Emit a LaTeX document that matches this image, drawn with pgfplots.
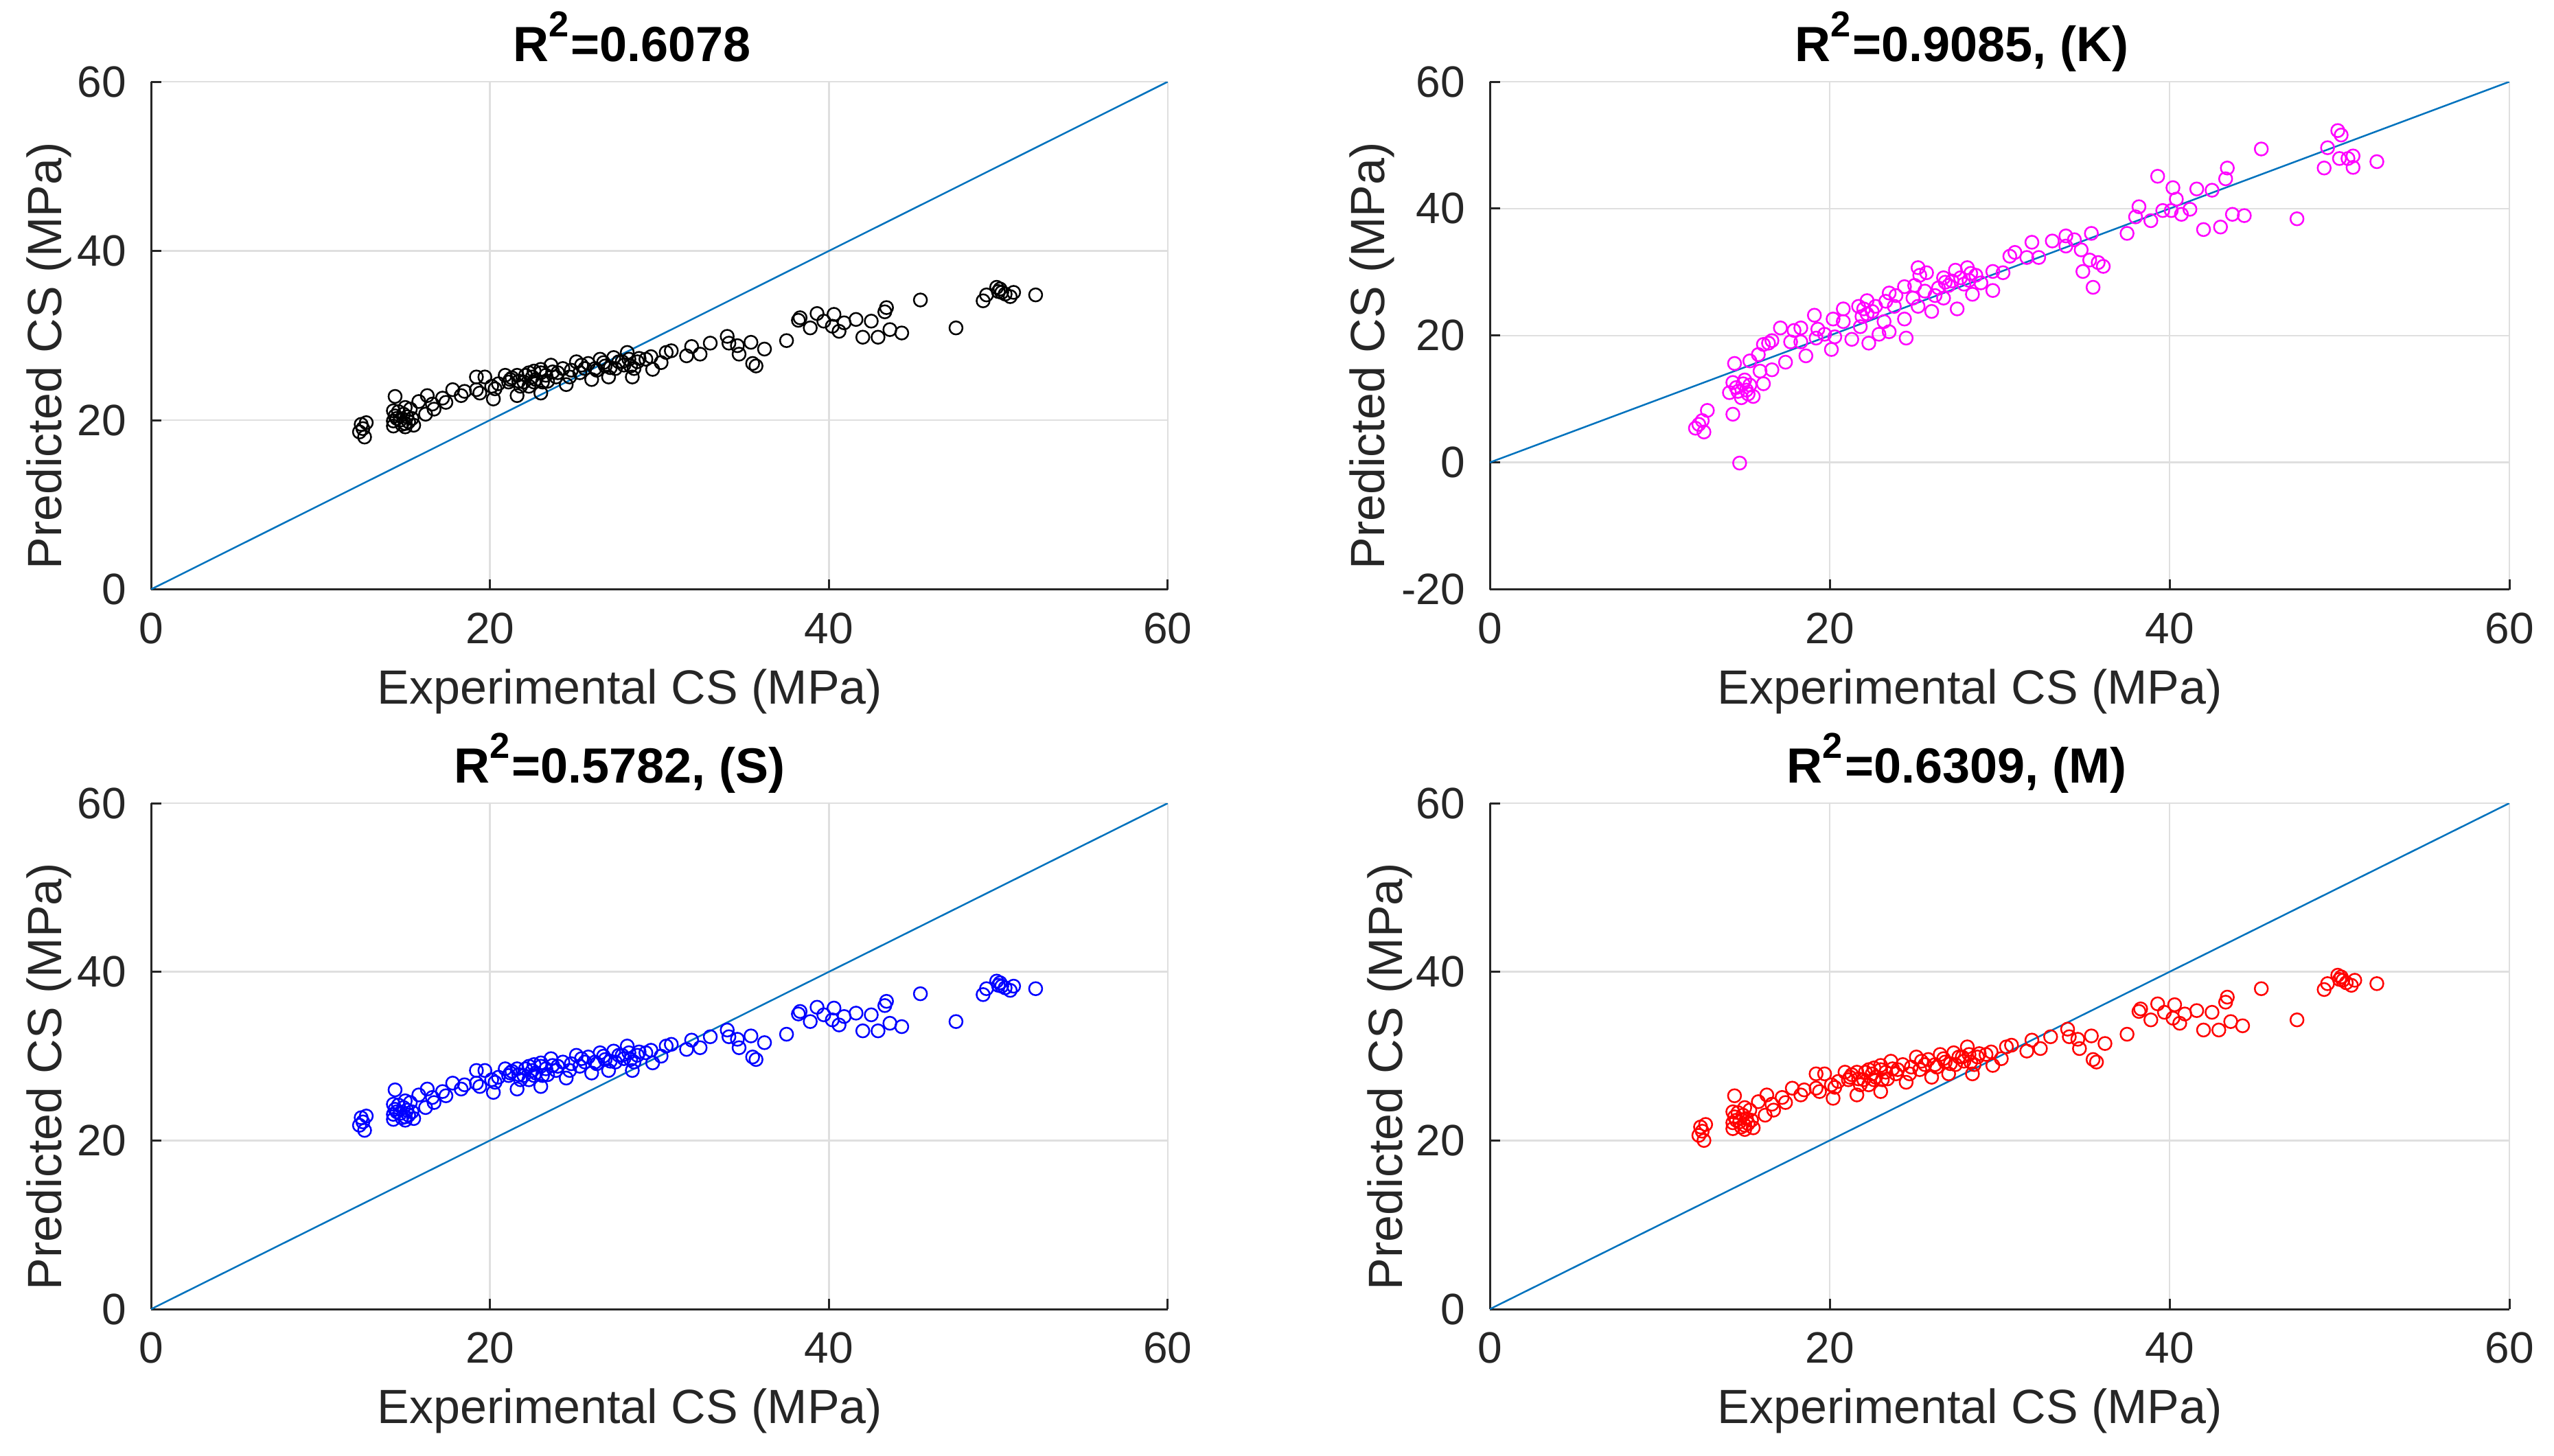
\documentclass[border=0pt]{standalone}
\usepackage{fontspec}
\setmainfont{Liberation Sans}
\usepackage{pgfplots}
\usepackage{pgfplotstable}
\pgfplotsset{compat=1.18}
\definecolor{axcol}{RGB}{38,38,38}
\definecolor{gridcol}{RGB}{223,223,223}
\definecolor{matblue}{RGB}{0,114,189}
\definecolor{mmag}{RGB}{255,0,255}
\definecolor{mblue}{RGB}{0,0,255}
\definecolor{mred}{RGB}{255,0,0}

\pgfplotstableread{
x y1 yS yM
12.3 18.6 21.8 20.6
12.5 19.0 22.2 21.1
12.7 19.7 22.9 21.9
12.6 18.0 21.2 20.0
12.4 19.5 22.7 21.6
14.4 22.8 26.0 25.3
14.3 21.1 24.3 23.4
14.3 19.9 23.1 22.1
14.4 20.5 23.7 22.8
14.7 20.0 23.2 22.2
14.9 20.7 23.9 23.0
15.0 21.5 24.7 23.9
15.2 19.8 23.0 22.0
15.4 20.2 23.4 22.4
15.3 21.3 24.5 23.6
15.0 19.6 22.8 21.8
15.8 22.2 25.4 24.6
16.2 20.7 23.9 23.0
16.3 22.9 26.1 25.4
16.6 21.9 25.1 24.3
16.7 21.3 24.5 23.6
17.2 22.6 25.8 25.1
17.4 22.1 25.3 24.5
17.8 23.6 26.8 26.2
18.3 22.9 26.1 25.4
18.5 23.4 26.6 26.0
19.2 25.1 28.3 27.9
19.2 23.6 26.8 26.2
19.7 25.1 28.3 27.9
19.4 23.2 26.4 25.8
20.1 24.0 27.2 26.6
20.2 22.5 25.7 25.0
20.3 23.7 26.9 26.3
20.9 25.3 28.5 28.1
21.1 24.5 27.7 27.2
21.2 24.8 28.0 27.5
21.6 22.9 26.1 25.4
21.6 25.3 28.5 28.1
22.0 24.5 27.7 27.2
22.3 25.6 28.8 28.4
22.3 24.0 27.2 26.6
22.5 25.1 28.3 27.9
22.6 24.5 27.7 27.2
23.0 26.0 29.2 28.9
23.0 23.2 26.4 25.8
23.1 24.5 27.7 27.2
23.3 25.3 28.5 28.1
23.6 26.5 29.7 29.4
23.7 25.7 28.9 28.5
23.9 25.1 28.3 27.9
24.3 26.1 29.3 29.0
24.5 24.2 27.4 26.9
24.7 25.1 28.3 27.9
25.1 26.9 30.1 29.9
25.3 25.6 28.8 28.4
25.4 26.5 29.7 29.4
25.6 26.1 29.3 29.0
26.0 24.8 28.0 27.5
26.2 26.1 29.3 29.0
26.5 27.2 30.4 30.2
26.8 26.4 29.6 29.3
27.0 25.1 28.3 27.9
27.3 27.4 30.6 30.4
27.4 26.1 29.3 29.0
27.6 26.9 30.1 29.9
27.9 26.5 29.7 29.4
28.1 28.0 31.2 31.1
28.2 27.2 30.4 30.2
28.4 25.1 28.3 27.9
28.5 26.1 29.3 29.0
28.7 26.9 30.1 29.9
29.2 27.2 30.4 30.2
29.5 27.5 30.7 30.5
29.6 26.0 29.2 28.9
30.1 26.8 30.0 29.7
30.4 28.0 31.2 31.1
30.7 28.2 31.4 31.3
31.6 27.6 30.8 30.6
31.9 28.7 31.9 31.9
32.4 27.8 31.0 30.9
33.0 29.1 32.3 32.3
34.0 29.9 33.1 33.2
34.1 29.1 32.3 32.3
34.6 28.8 32.0 32.0
34.7 27.8 31.0 30.9
35.4 29.2 32.4 32.4
35.5 26.7 29.9 29.6
35.7 26.4 29.6 29.3
36.2 28.4 31.6 31.5
37.5 29.4 32.6 32.6
38.2 31.8 35.0 35.3
38.3 32.1 35.3 35.6
38.9 30.9 34.1 34.3
39.3 32.6 35.8 36.2
39.7 31.7 34.9 35.2
40.2 31.1 34.3 34.5
40.3 32.5 35.7 36.1
40.6 30.5 33.7 33.9
40.9 31.5 34.7 35.0
41.6 31.9 35.1 35.4
42.0 29.8 33.0 33.1
42.5 31.7 34.9 35.2
42.9 29.8 33.0 33.1
43.3 32.8 36.0 36.4
43.4 33.3 36.5 37.0
43.6 30.7 33.9 34.1
44.3 30.3 33.5 33.6
45.4 34.2 37.4 38.0
47.5 30.9 34.1 34.3
49.1 34.1 37.3 37.9
49.3 34.8 38.0 38.6
49.9 35.7 38.9 39.6
50.1 35.5 38.7 39.4
50.2 35.1 38.3 39.0
50.7 34.6 37.8 38.4
50.9 35.1 38.3 39.0
52.2 34.8 38.0 38.6
50.0 35.2 38.4 39.1
50.4 34.9 38.1 38.7
14.3 19.3 22.5 21.4
14.5 20.2 23.4 22.4
14.8 19.5 22.7 21.6
15.1 20.4 23.6 22.6
15.5 19.4 22.6 21.5
14.6 21.0 24.2 23.3
15.0 19.2 22.4 21.3
20.5 24.3 27.5 27.0
21.3 25.0 28.2 27.8
21.8 24.0 27.2 26.6
22.1 25.3 28.5 28.1
22.7 24.8 28.0 27.5
23.0 25.6 28.8 28.4
23.4 24.6 27.8 27.3
24.0 25.6 28.8 28.4
24.8 25.9 29.1 28.7
25.8 26.7 29.9 29.6
26.3 25.9 29.1 28.7
26.7 26.8 30.0 29.7
27.1 26.2 29.4 29.1
27.8 26.9 30.1 29.9
28.3 26.4 29.6 29.3
28.8 27.3 30.5 30.3
22.6 25.8 29.0 28.6
21.7 24.6 27.8 27.3
}\dataA

\pgfplotstableread{
x y
14.7 -0.1
12.1 5.4
12.6 4.8
12.5 6.6
12.8 8.2
12.3 6.0
14.3 7.6
14.3 12.6
14.1 11.0
14.5 11.8
14.8 10.2
15.0 13.0
15.1 11.4
15.5 10.4
15.3 12.2
16.1 12.4
14.4 15.6
15.3 16.0
15.8 17.0
15.9 14.4
16.6 14.6
16.1 18.6
16.4 18.8
16.6 19.2
17.1 21.2
17.4 15.8
17.7 19.0
17.9 20.8
18.3 21.2
18.3 19.0
18.6 16.8
19.1 23.2
19.2 19.6
19.3 21.0
19.7 20.2
20.1 17.8
20.2 22.6
20.3 19.8
20.8 24.2
20.8 22.2
21.3 19.4
21.7 24.6
21.8 21.4
22.2 25.5
22.2 23.4
22.3 18.8
22.7 24.6
22.9 20.2
23.2 22.2
23.5 26.7
23.5 20.6
23.9 26.3
24.4 22.6
24.5 19.6
24.4 27.7
24.9 25.9
25.0 27.9
25.2 30.7
25.3 29.5
25.2 24.6
25.7 29.9
26.0 23.8
26.2 26.3
26.7 29.1
26.7 25.9
27.0 27.9
27.4 30.3
27.5 24.2
27.7 29.1
28.1 30.7
28.2 28.7
28.4 26.5
28.6 29.5
28.9 28.3
29.6 27.1
29.6 30.1
30.2 29.9
30.6 32.5
30.9 33.1
31.6 32.3
32.3 32.3
31.9 34.7
33.1 34.9
33.9 35.7
33.9 34.1
34.4 35.1
34.8 33.5
35.4 36.1
35.3 31.9
35.8 31.5
36.1 30.9
34.9 30.1
35.5 27.6
37.5 36.1
38.0 38.7
38.2 40.3
38.9 38.1
39.3 45.1
39.6 39.7
40.1 39.7
40.2 43.3
40.4 41.5
40.7 39.1
41.2 39.9
41.6 43.1
42.0 36.7
42.5 42.9
43.0 37.1
43.3 44.7
43.4 46.4
43.7 39.1
44.4 38.9
45.4 49.4
47.5 38.4
49.1 46.4
49.3 49.6
49.9 52.3
50.1 51.6
50.0 47.9
50.5 47.9
50.8 48.3
50.8 46.5
52.2 47.4
22.0 24.2
22.5 23.8
21.9 23.0
23.3 25.4
23.8 24.6
25.6 27.0
26.4 27.5
27.2 28.6
27.9 28.1
28.3 29.8
26.8 28.4
14.6 11.2
14.9 12.4
15.2 10.8
}\dataK

\pgfplotstableread{
x y
0 0
60 60
}\diag

\pgfplotsset{
  every axis title shift=0pt,
  mstyle/.style={
    scale only axis,
    xmin=0, xmax=60, xtick={0,20,40,60},
    axis x line*=bottom, axis y line*=left,
    axis line style={draw=axcol, line width=0.6pt, -},
    every tick/.style={draw=axcol, line width=0.6pt},
    major tick length=3pt,
    tick align=inside,
    grid=major,
    major grid style={draw=gridcol, line width=0.5pt},
    tick label style={font=\fontsize{12.8}{14}\selectfont, text=axcol},
    /pgf/number format/assume math mode=true,
    xticklabel style={anchor=north, inner sep=0pt, yshift=-6.6pt},
    yticklabel style={anchor=east, inner sep=0pt, xshift=-7pt},
    label style={font=\fontsize{14}{16}\selectfont, text=axcol, inner sep=0pt},
    xlabel={Experimental CS (MPa)},
    ylabel={Predicted CS (MPa)},
    xlabel style={at={(axis description cs:0.471,0)}, anchor=base, yshift=-33.3pt},
    title style={font=\bfseries\fontsize{14.4}{16}\selectfont, anchor=base, inner sep=0pt, yshift=6pt},
  },
  scat/.style={only marks, mark=o, mark size=1.9pt, mark options={line width=0.5pt}},
  diagl/.style={color=matblue, line width=0.5pt, no marks},
}

\newcommand{\rsq}{R\raisebox{7.1pt}{\fontsize{10.5}{10.5}\selectfont 2}\hspace{0.6pt}}

\begin{document}
\begin{tikzpicture}
\useasboundingbox (0,0) rectangle (744pt,424pt);

% top left
\begin{axis}[mstyle, at={(44pt,252.3pt)}, anchor=south west,
  width=296.2pt, height=147.9pt,
  ymin=0, ymax=60, ytick={0,20,40,60},
  ylabel style={at={(axis description cs:-0.0878,0.46)}, anchor=base},
  title style={at={(axis description cs:0.473,1)}},
  title={\rsq=0.6078}]
\addplot[scat, color=black] table[x=x, y=y1] {\dataA};
\addplot[diagl] table {\diag};
\end{axis}

% top right
\begin{axis}[mstyle, at={(434pt,252.3pt)}, anchor=south west,
  width=297pt, height=147.9pt,
  ymin=-20, ymax=60, ytick={-20,0,20,40,60},
  ylabel style={at={(axis description cs:-0.1037,0.46)}, anchor=base},
  title style={at={(axis description cs:0.463,1)}},
  title={\rsq=0.9085, (K)}]
\addplot[scat, color=mmag] table[x=x, y=y] {\dataK};
\addplot[diagl] table {\diag};
\end{axis}

% bottom left
\begin{axis}[mstyle, at={(44pt,42.6pt)}, anchor=south west,
  width=296.2pt, height=147.4pt,
  ymin=0, ymax=60, ytick={0,20,40,60},
  ylabel style={at={(axis description cs:-0.0878,0.46)}, anchor=base},
  title style={at={(axis description cs:0.461,1)}},
  title={\rsq=0.5782, (S)}]
\addplot[scat, color=mblue] table[x=x, y=yS] {\dataA};
\addplot[diagl] table {\diag};
\end{axis}

% bottom right
\begin{axis}[mstyle, at={(434pt,42.6pt)}, anchor=south west,
  width=297pt, height=147.4pt,
  ymin=0, ymax=60, ytick={0,20,40,60},
  ylabel style={at={(axis description cs:-0.0862,0.46)}, anchor=base},
  title style={at={(axis description cs:0.458,1)}},
  title={\rsq=0.6309, (M)}]
\addplot[scat, color=mred] table[x=x, y=yM] {\dataA};
\addplot[diagl] table {\diag};
\end{axis}
\end{tikzpicture}
\end{document}
